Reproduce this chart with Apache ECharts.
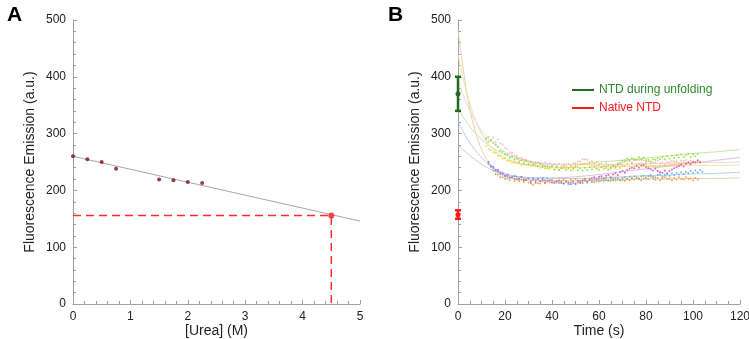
<!DOCTYPE html>
<html>
<head>
<meta charset="utf-8">
<script src="https://cdn.jsdelivr.net/npm/echarts@6/dist/echarts.min.js"></script>
<style>
html, body { margin: 0; padding: 0; background: #fff; }
#main { width: 749px; height: 339px; }
</style>
</head>
<body>
<div id="main"></div>
<script>
// ---- panel A : urea titration ----
var ureaConc = [0, 0.25, 0.5, 0.75, 1.5, 1.75, 2, 2.25];
var ureaFluor = [260, 255, 250, 238, 219, 218, 215, 213];
var fitUrea = [0, 5];
var fitFluor = [260, 146];
var nativeUrea = 4.5;
var nativeFluor = 156;

// ---- panel B : kinetics ----
// fitted curves, sampled at these times
var fitTime = [0, 2, 4, 6, 8, 10, 12, 15, 20, 25, 30, 40, 50, 60, 70, 80, 90, 100, 110, 120];
var fitOrange = [482, 420, 365, 325, 295, 272, 256, 240, 226, 220, 218, 217, 217, 218, 219, 220, 220, 221, 221, 222];
var fitYellow = [440, 400, 368, 340, 318, 300, 287, 272, 257, 249, 245, 241, 240, 241, 242, 243, 243, 244, 244, 245];
var fitGreen = [345, 330, 318, 307, 298, 290, 283, 274, 263, 255, 250, 246, 246, 250, 253, 257, 261, 265, 268, 272];
var fitPink = [395, 370, 350, 333, 318, 305, 295, 283, 268, 258, 252, 246, 245, 245, 246, 247, 248, 249, 249, 250];
var fitBlue = [322, 305, 290, 278, 267, 258, 250, 240, 230, 225, 222, 221, 221, 222, 224, 226, 227, 229, 230, 232];
var fitPurple = [280, 272, 265, 258, 252, 246, 241, 235, 228, 224, 222, 222, 224, 228, 233, 238, 243, 248, 253, 258];

// raw traces, one reading per second starting at the given time
var greenStart = 12;
var greenTrace = [292,286,289,284,281,277,270,268,264,263, 258,260,254,257,251,253,248,252,246,249,
  245,247,243,246,241,243,239,241,243,237, 241,236,239,242,236,239,235,238,241,236,
  239,235,240,236,241,237,242,238,236,241, 238,242,237,240,244,241,247,246,252,251,
  256,253,257,255,254,259,255,258,253,254, 251,255,254,257,255,259,255,260,256,261,
  257,262,258,263,259,262,264,259,263,260,264];
var magentaStart = 13;
var magentaTrace = [250,243,241,236,236,231,230,226,227,223, 223,225,219,221,224,218,219,221,215,219,
  215,220,216,219,214,216,218,214,213,216, 217,213,212,216,213,211,216,212,217,213,
  218,220,215,219,221,223,220,224,225,221, 226,227,223,228,230,227,232,234,231,236,
  238,240,239,243,240,244,245,241,239,237, 235,238,234,232,231,235,230,234,237,239,
  241,243,245,242,247,249,246,250,249,253,250];
var blueStart = 13;
var blueTrace = [246,241,239,234,233,228,228,224,225,222, 223,220,224,219,223,220,218,221,217,222,
  218,221,217,222,218,221,217,218,215,216, 213,216,212,215,211,214,213,211,214,216,
  213,217,214,218,215,219,216,220,217,221, 218,217,221,218,222,219,218,222,223,220,
  224,221,225,222,221,225,226,222,225,227, 224,223,227,228,224,227,229,226,230,227,
  231,228,232,229,233,230,234,231,235,232,236,233];
var orangeStart = 15;
var orangeTrace = [235,229,228,223,223,220,221,218,222,217, 220,216,219,215,218,214,212,210,213,213,
  212,216,213,217,214,218,215,214,218,215, 219,216,215,219,216,220,217,216,215,219,
  216,220,217,215,219,216,220,217,221,218, 217,221,218,222,219,218,217,221,218,222,
  219,223,220,218,221,223,220,224,221,219, 222,218,221,223,220,221,218,222,219,223,
  220,219,223,220,221,218,222,219];
var yellowStart = 12;
var yellowTrace = [278,273,271,267,266,261,261,256,256,252, 252,249,249,248,248,245,246,245,245,244,
  244,243,243,240,244,239,242,238,241,237, 240,236,239,239,240,240,241,241,245,242,
  246,246,247,247,247,244,248,243,244,241, 242,239,243,238,242,239,243,240,244,243,
  246,242,247,243,246,246,247,243,246,242, 243,243,242,242,243,243,244,244,245,245,
  246,246,247,247,248,248,249,249,250,250,251,248];
var pinkStart = 12;
var pinkTrace = [290,294,287,293,285,290,283,281,275,273, 267,266,261,261,257,257,254,254,251,251,
  248,249,249,248,245,249,244,247,243,246, 243,247,242,246,243,247,244,248,248,251,
  251,255,255,254,250,251,247,250,246,247, 244,248,245,245,244,244,245,249,249,253,
  252,252,249,253,253,254,254,253,250,251, 248,249,249,252,248,249,246,250,249,252,
  251,251,248,252,252,253,249,252,251];

// error bars at t = 0 : [time, low, mean, high]
var unfoldingBar = [0, 340, 370, 400];
var nativeBar = [0, 150, 157, 165];

function pairs(xs, ys) {
	var out = [];
	for (var i = 0; i < ys.length; i++) out.push([xs[i], ys[i]]);
	return out;
}
function trace(start, ys) {
	var out = [];
	for (var i = 0; i < ys.length; i++) out.push([start + i, ys[i]]);
	return out;
}

var textColor = '#222';
var axisGray = '#a0a0a0';
var font = 'Liberation Sans, Arial, sans-serif';

function valueAxis(idx, min, max, interval, minorSplit, name, nameGap) {
	return {
		type: 'value', gridIndex: idx, min: min, max: max, interval: interval,
		name: name, nameLocation: 'middle', nameGap: nameGap, nameMoveOverlap: false,
		nameTextStyle: { color: textColor, fontSize: 14, fontFamily: font },
		axisLine: { show: true, lineStyle: { color: axisGray, width: 1 } },
		axisTick: { show: true, inside: true, length: 4, lineStyle: { color: axisGray } },
		minorTick: { show: true, splitNumber: minorSplit, length: 3, lineStyle: { color: axisGray } },
		axisLabel: { color: textColor, fontSize: 12, fontFamily: font, margin: 7 },
		splitLine: { show: false }
	};
}

function errRender(params, api) {
	var pLo = api.coord([api.value(0), api.value(1)]);
	var pMid = api.coord([api.value(0), api.value(2)]);
	var pHi = api.coord([api.value(0), api.value(3)]);
	var st = { stroke: api.visual('color'), lineWidth: 2.5 };
	var cap = 3;
	return {
		type: 'group',
		children: [
			{ type: 'line', shape: { x1: pLo[0], y1: pLo[1], x2: pHi[0], y2: pHi[1] }, style: st },
			{ type: 'line', shape: { x1: pLo[0] - cap, y1: pLo[1], x2: pLo[0] + cap, y2: pLo[1] }, style: st },
			{ type: 'line', shape: { x1: pHi[0] - cap, y1: pHi[1], x2: pHi[0] + cap, y2: pHi[1] }, style: st },
			{ type: 'circle', shape: { cx: pMid[0], cy: pMid[1], r: 2.5 }, style: { fill: api.visual('color') } }
		]
	};
}

function fitLine(ys, color) {
	return {
		type: 'line', xAxisIndex: 1, yAxisIndex: 1, data: pairs(fitTime, ys),
		smooth: 0.3, showSymbol: false, silent: true,
		lineStyle: { color: color, width: 1 }, z: 2
	};
}
function dots(start, ys, color) {
	return {
		type: 'scatter', xAxisIndex: 1, yAxisIndex: 1, data: trace(start, ys),
		symbolSize: 2, silent: true,
		itemStyle: { color: color, opacity: 0.85 }, z: 3
	};
}

var chart = echarts.init(document.getElementById('main'), null, { renderer: 'canvas' });

var option = {
	backgroundColor: '#fff',
	animation: false,
	textStyle: { fontFamily: font },
	title: [
		{ text: 'A', left: 2, top: 0, textStyle: { fontSize: 21, fontWeight: 'bold', color: '#000', fontFamily: font } },
		{ text: 'B', left: 383, top: 0, textStyle: { fontSize: 21, fontWeight: 'bold', color: '#000', fontFamily: font } }
	],
	grid: [
		{ left: 73, right: 389, top: 20, bottom: 35, outerBoundsMode: 'none' },
		{ left: 458, right: 9, top: 20, bottom: 35, outerBoundsMode: 'none' }
	],
	legend: {
		orient: 'vertical', left: 567, top: 79,
		itemWidth: 22, itemHeight: 2, itemGap: 6,
		icon: 'rect',
		textStyle: { fontSize: 12, fontFamily: font },
		data: [
			{ name: 'NTD during unfolding', textStyle: { color: '#2f8a2f' } },
			{ name: 'Native NTD', textStyle: { color: '#ff1a1a' } }
		]
	},
	xAxis: [
		valueAxis(0, 0, 5, 1, 5, '[Urea] (M)', 20),
		valueAxis(1, 0, 120, 20, 4, 'Time (s)', 20)
	],
	yAxis: [
		valueAxis(0, 0, 500, 100, 5, 'Fluorescence Emission (a.u.)', 36),
		valueAxis(1, 0, 500, 100, 5, 'Fluorescence Emission (a.u.)', 36)
	],
	series: [
		// panel A
		{
			type: 'line', xAxisIndex: 0, yAxisIndex: 0, data: pairs(fitUrea, fitFluor),
			showSymbol: false, silent: true, lineStyle: { color: '#b0a4a4', width: 1 }, z: 2
		},
		{
			type: 'line', xAxisIndex: 0, yAxisIndex: 0,
			data: [[0, nativeFluor], [nativeUrea, nativeFluor], [nativeUrea, 0]],
			showSymbol: false, silent: true,
			lineStyle: { color: '#ff2a2a', width: 1.5, type: [8, 5] }, z: 3
		},
		{
			type: 'scatter', xAxisIndex: 0, yAxisIndex: 0, data: pairs(ureaConc, ureaFluor),
			symbolSize: 4, itemStyle: { color: '#7a1010' }, z: 4
		},
		{
			type: 'scatter', xAxisIndex: 0, yAxisIndex: 0, data: [[nativeUrea, nativeFluor]],
			symbolSize: 6, itemStyle: { color: '#ff1a1a' }, z: 5
		},
		// panel B fits
		fitLine(fitOrange, '#eccfa8'),
		fitLine(fitYellow, '#ede4a8'),
		fitLine(fitGreen, '#c2e6a0'),
		fitLine(fitPink, '#f0d6dc'),
		fitLine(fitBlue, '#b6d2e6'),
		fitLine(fitPurple, '#d6c4dc'),
		// panel B raw traces
		dots(pinkStart, pinkTrace, '#f2b4c8'),
		dots(yellowStart, yellowTrace, '#f2cc3a'),
		dots(greenStart, greenTrace, '#8edc3a'),
		dots(magentaStart, magentaTrace, '#d84cc0'),
		dots(blueStart, blueTrace, '#5aaee6'),
		dots(orangeStart, orangeTrace, '#f0963a'),
		// error bars
		{
			name: 'NTD during unfolding', type: 'custom', xAxisIndex: 1, yAxisIndex: 1,
			renderItem: errRender, data: [unfoldingBar], clip: false,
			encode: { x: 0, y: [1, 2, 3] }, itemStyle: { color: '#1f6b1f' }, z: 10
		},
		{
			name: 'Native NTD', type: 'custom', xAxisIndex: 1, yAxisIndex: 1,
			renderItem: errRender, data: [nativeBar], clip: false,
			encode: { x: 0, y: [1, 2, 3] }, itemStyle: { color: '#ff1a1a' }, z: 10
		}
	]
};

chart.setOption(option, true);
</script>
</body>
</html>
